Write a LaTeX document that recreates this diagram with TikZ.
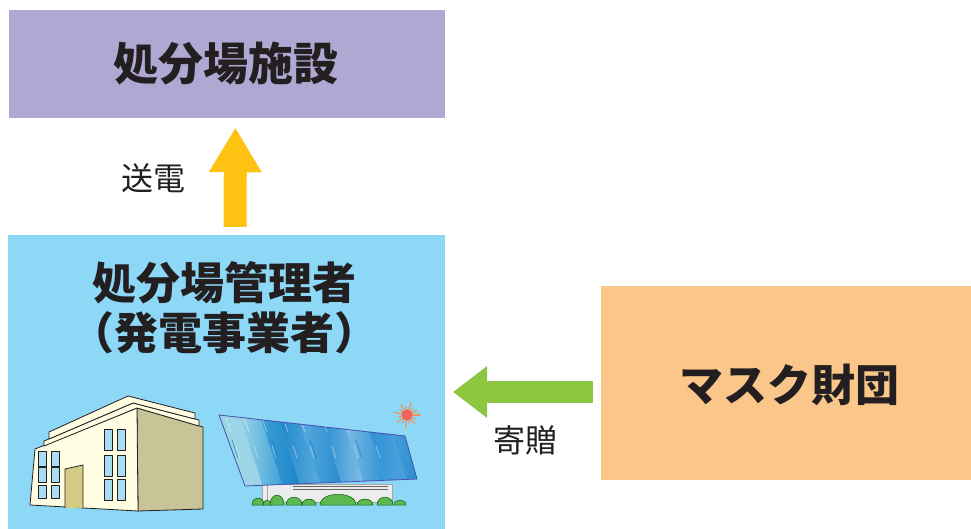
\documentclass[tikz,border=0pt]{standalone}
\usepackage{fontspec}
\setmainfont{Noto Sans CJK JP}
\usetikzlibrary{arrows.meta}

\definecolor{ink}{HTML}{231F20}
\definecolor{facility}{HTML}{AFA8D3}
\definecolor{manager}{HTML}{8DD7F7}
\definecolor{foundation}{HTML}{FBC68A}
\definecolor{power}{HTML}{FDC212}
\definecolor{gift}{HTML}{8DC63F}
\definecolor{cream}{HTML}{FFFDE2}
\definecolor{khaki}{HTML}{C8C497}
\definecolor{door}{HTML}{D4CC85}
\definecolor{glass}{HTML}{AADDF5}
\definecolor{bush}{HTML}{5DB84E}
\definecolor{sunred}{HTML}{F0645A}
\definecolor{sunray}{HTML}{F59050}
\definecolor{pa}{HTML}{9CD6E6}
\definecolor{pb}{HTML}{3E9FD8}
\definecolor{pc}{HTML}{1A84C8}
\definecolor{pd}{HTML}{5EAEE0}
\definecolor{pe}{HTML}{2488CE}
\definecolor{pf}{HTML}{86C2E8}
\definecolor{pg}{HTML}{2B8FD3}
\definecolor{ph}{HTML}{4FA4DD}

\begin{document}
\begin{tikzpicture}[x=1pt,y=-1pt,
    box/.style={rectangle, inner sep=0pt},
    title/.style={font=\bfseries\fontsize{45}{50}\selectfont, text=ink, align=center},
    label/.style={font=\fontsize{32}{36}\selectfont, text=ink},
    powerarrow/.style={draw=power, line width=23pt, shorten <=8pt, shorten >=10pt,
        -{Triangle[width=53pt,length=44pt,line width=0pt]}},
    giftarrow/.style={draw=gift, line width=22pt, shorten <=8pt, shorten >=8pt,
        -{Triangle[width=52pt,length=34pt,line width=0pt]}},
    wall/.style={draw=ink, line width=0.8pt, line join=round},
    window/.style={wall, fill=glass}]
\useasboundingbox (0,0) rectangle (971,529);

\node[box, fill=facility, minimum width=436pt, minimum height=108pt] (facility) at (227,64) {};
\node[title] (facilitytitle) at (225.5,64) {処分場施設};

\node[box, fill=manager, minimum width=437pt, minimum height=294pt] (manager) at (226.5,382) {};
\node[title, font=\bfseries\fontsize{44}{50}\selectfont] (managertitle) at (224,308)
    {処分場管理者\\（発電事業者）};

\node[box, fill=foundation, minimum width=370pt, minimum height=194pt] (foundation) at (786,383) {};
\node[title, font=\bfseries\fontsize{44}{50}\selectfont] (foundationtitle) at (789,385) {マスク財団};

\draw[powerarrow] ([xshift=8.5pt]manager.north) -- ([xshift=8.5pt]facility.south);
\node[label] (sendlabel) at (153,178) {送電};

\draw[giftarrow] ([yshift=-9pt]foundation.west) -- ([yshift=-9pt]foundation.west -| manager.east);
\node[label] (giftlabel) at (525,440) {寄贈};

% building
\draw[wall, fill=khaki] (137,408) -- (203,427) -- (203,509) -- (138,511) -- cycle;
\draw[wall, fill=cream] (30,505) -- (35,449) -- (137,408) -- (138,511) -- cycle;
\draw[wall, fill=cream] (44,446) -- (44,441) -- (133,403) -- (199,420) -- (199,426) -- (137,408) -- cycle;
\draw[wall, fill=cream] (49,439) -- (49,432) -- (128,396) -- (195,413) -- (195,419) -- (133,403) -- cycle;
\draw[wall, fill=door] (65,508) -- (65,469) -- (83,465) -- (83,508);
\foreach \x in {38,51}
  \foreach \y/\h in {451/15,467/15,485/13}
    \draw[window] (\x,\y) rectangle ++(8,\h);
\foreach \x in {104,117}
  \foreach \y in {429,455,479}
    \draw[window] (\x,\y) rectangle ++(8,21);

% solar panel
\draw[draw=gray!70, fill=gray!15, line width=0.6pt] (262,484) rectangle (392,502);
\draw[gray!70, line width=0.6pt] (267,484) -- (267,502);
\foreach \y in {486.5,489.5}
  \draw[gray!80!black, line width=0.8pt] (293,\y) -- (388,\y);
\begin{scope}
  \clip (219,415) -- (405,436) -- (417,479) -- (245,486) -- cycle;
  \foreach \xa/\xb/\ca/\cb in {190/238/pa/pa,238/258/pa/pb,258/276/pb/pc,276/296/pc/pd,
      296/318/pd/pe,318/340/pe/pf,340/362/pf/pg,362/384/pg/ph,384/406/ph/pc,406/440/pc/pe}
    \shade[left color=\ca, right color=\cb] (\xa,410) -- (\xb,410) -- (\xb+26,490) -- (\xa+26,490) -- cycle;
  \foreach \x in {226,244,262,283,300,322,344,366,388,404}
    \draw[white, opacity=0.55, line width=0.6pt] (\x,418) -- ++(5,14) (\x+10,446) -- ++(4,12);
  \foreach \x in {232,272,310,356,396}
    \draw[pc, line width=0.6pt] (\x,440) -- ++(6,18);
\end{scope}
\draw[draw=gray!60!blue, line width=0.8pt, line join=round]
  (219,415) -- (405,436) -- (417,479) -- (245,486) -- cycle;
\foreach \x/\w/\h in {258/6/7,267/4/5,277/7/10,294/8/8,309/7/6,338/18/11,365/8/6,385/8/8,400/6/5}
  \draw[draw=green!35!black, fill=bush, line width=0.5pt]
    (\x-\w,505) .. controls (\x-\w,505-1.3*\h) and (\x+\w,505-1.3*\h) .. (\x+\w,505) -- cycle;

% sun
\foreach \a/\r in {0/13,24/9,48/12,72/8,96/13,120/9,144/12,168/8,192/13,216/9,240/12,264/8,288/13,312/9,336/11}
  \draw[sunray, line width=1.1pt, line cap=round] (407,415) -- +({\r*cos(\a)},{\r*sin(\a)});
\fill[sunred] (407,415) circle (5.5);
\end{tikzpicture}
\end{document}
